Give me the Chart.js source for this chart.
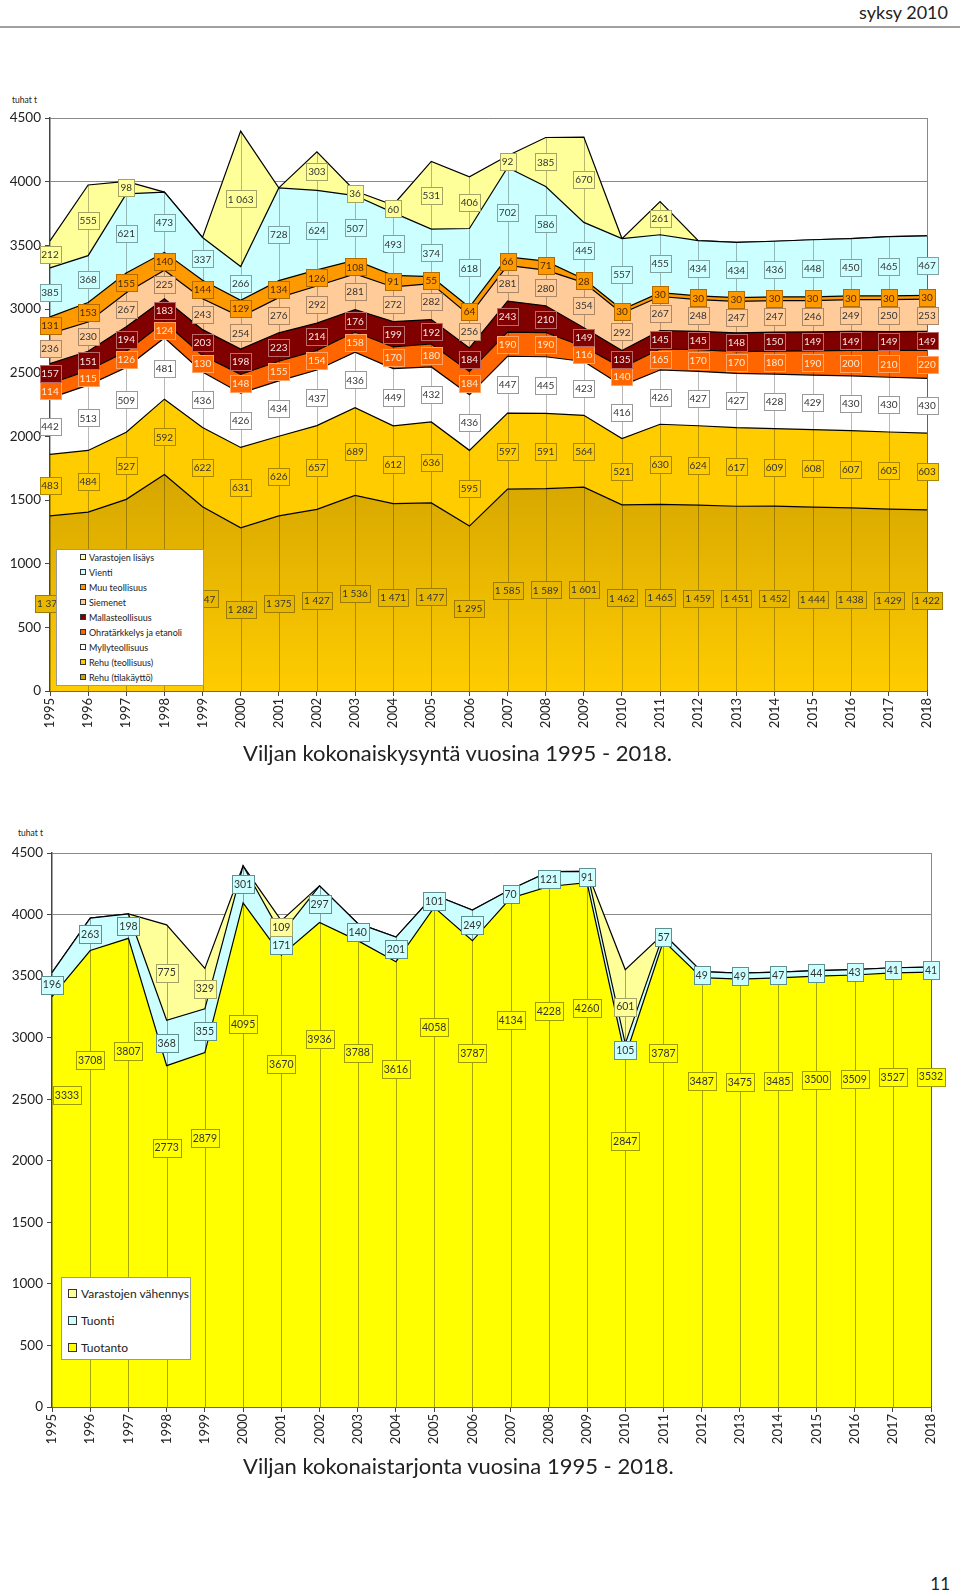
<!DOCTYPE html>
<html>
<head>
<meta charset="utf-8">
<script src="https://cdn.jsdelivr.net/npm/chart.js@4.4.1/dist/chart.umd.min.js"></script>
<style>
body { margin: 0; background: #fff; font-family: Lato, "Open Sans", sans-serif; color: #222; }
#page { position: relative; width: 960px; height: 1596px; overflow: hidden; }
.abs { position: absolute; }
#hdr { right: 12px; top: 1px; font-size: 18px; }
#hdrLine { left: 0; top: 26px; width: 960px; height: 2px; background: #a0a0a0; }
.unit { font-size: 8.5px; }
.title { font-size: 22px; white-space: nowrap; }
.legend { background: #fff; border: 1px solid #999; box-sizing: border-box; }
.legend div { position: absolute; white-space: nowrap; display: flex; align-items: center; }
.legend i { display: inline-block; border: 1px solid #333; box-sizing: border-box; }
#leg1 div { font-size: 9px; height: 12px; }
#leg1 i { width: 6px; height: 6px; margin-right: 3px; }
#leg2 div { font-size: 12px; height: 16px; }
#leg2 i { width: 9px; height: 9px; margin-right: 4px; }
#pageNo { right: 10px; top: 1573px; font-size: 17px; }
</style>
</head>
<body>
<div id="page">
  <div id="hdr" class="abs">syksy 2010</div>
  <div id="hdrLine" class="abs"></div>

  <div class="abs unit" style="left:12px;top:95px;">tuhat t</div>
  <canvas id="demandChart" class="abs" style="left:0;top:100px;" width="960" height="640"></canvas>
  <div id="leg1" class="abs legend" style="left:56px;top:549px;width:148px;height:137px;"></div>
  <div class="abs title" style="left:243px;top:739px;">Viljan kokonaiskysyntä vuosina 1995 - 2018.</div>

  <div class="abs unit" style="left:18px;top:828px;">tuhat t</div>
  <canvas id="supplyChart" class="abs" style="left:0;top:830px;" width="960" height="625"></canvas>
  <div id="leg2" class="abs legend" style="left:61px;top:1277px;width:130px;height:83px;"></div>
  <div class="abs title" style="left:243px;top:1452px;">Viljan kokonaistarjonta vuosina 1995 - 2018.</div>

  <div id="pageNo" class="abs">11</div>
</div>

<script>
// Years
const years = ['1995', '1996', '1997', '1998', '1999', '2000', '2001', '2002', '2003', '2004', '2005', '2006',
    '2007', '2008', '2009', '2010', '2011', '2012', '2013', '2014', '2015', '2016', '2017', '2018'];
const yTicks = [0, 500, 1000, 1500, 2000, 2500, 3000, 3500, 4000, 4500];

// Kokonaiskysyntä (demand), bottom of stack first
const rehuTila = [1375, 1405, 1505, 1700, 1447, 1282, 1375, 1427, 1536, 1471, 1477, 1295, 1585, 1589, 1601, 1462, 1465, 1459, 1451, 1452, 1444, 1438, 1429, 1422];
const rehuTeol = [483, 484, 527, 592, 622, 631, 626, 657, 689, 612, 636, 595, 597, 591, 564, 521, 630, 624, 617, 609, 608, 607, 605, 603];
const mylly = [442, 513, 509, 481, 436, 426, 434, 437, 436, 449, 432, 436, 447, 445, 423, 416, 426, 427, 427, 428, 429, 430, 430, 430];
const ohra = [114, 115, 126, 124, 130, 148, 155, 154, 158, 170, 180, 184, 190, 190, 116, 140, 165, 170, 170, 180, 190, 200, 210, 220];
const mallas = [157, 151, 194, 183, 203, 198, 223, 214, 176, 199, 192, 184, 243, 210, 149, 135, 145, 145, 148, 150, 149, 149, 149, 149];
const siemenet = [236, 230, 267, 225, 243, 254, 276, 292, 281, 272, 282, 256, 281, 280, 354, 292, 267, 248, 247, 247, 246, 249, 250, 253];
const muuTeol = [131, 153, 155, 140, 144, 129, 134, 126, 108, 91, 55, 64, 66, 71, 28, 30, 30, 30, 30, 30, 30, 30, 30, 30];
const vienti = [385, 368, 621, 473, 337, 266, 728, 624, 507, 493, 374, 618, 702, 586, 445, 557, 455, 434, 434, 436, 448, 450, 465, 467];
const varLisays = [212, 555, 98, 0, 0, 1063, 0, 303, 36, 60, 531, 406, 92, 385, 670, 0, 261, 0, 0, 0, 0, 0, 0, 0];

// Kokonaistarjonta (supply), bottom of stack first
const tuotanto = [3333, 3708, 3807, 2773, 2879, 4095, 3670, 3936, 3788, 3616, 4058, 3787, 4134, 4228, 4260, 2847, 3787, 3487, 3475, 3485, 3500, 3509, 3527, 3532];
const tuonti = [196, 263, 198, 368, 355, 301, 171, 297, 140, 201, 101, 249, 70, 121, 91, 105, 57, 49, 49, 47, 44, 43, 41, 41];
const varVahennys = [0, 0, 0, 775, 329, 0, 109, 0, 0, 0, 0, 0, 0, 0, 0, 601, 0, 0, 0, 0, 0, 0, 0, 0];

const FONT = 'Lato, "Open Sans", sans-serif';

// drop lines + boxed value labels in the middle of each band
const stackLabels = {
    id: 'stackLabels',
    afterDatasetsDraw(chart, args, opts) {
        const { ctx, chartArea } = chart;
        const y = chart.scales.y;
        const zero = y.getPixelForValue(0);
        const metas = chart.data.datasets.map((d, i) => chart.getDatasetMeta(i));
        const top = metas[metas.length - 1];

        ctx.save();
        ctx.strokeStyle = opts.dropColor;
        ctx.lineWidth = 1;
        top.data.forEach((p) => {
            const x = Math.round(p.x) + 0.5;
            ctx.beginPath();
            ctx.moveTo(x, p.y);
            ctx.lineTo(x, zero);
            ctx.stroke();
        });

        ctx.font = opts.fontSize + 'px ' + FONT;
        ctx.textAlign = 'center';
        ctx.textBaseline = 'middle';
        chart.data.datasets.forEach((ds, i) => {
            const lab = ds.labelStyle;
            ds.data.forEach((v, j) => {
                if (!v) return;
                const p = metas[i].data[j];
                const base = i === 0 ? zero : metas[i - 1].data[j].y;
                const cy = base + (p.y - base) * (ds.labelAt || 0.5);
                const txt = opts.format(v);
                const w = Math.round(ctx.measureText(txt).width + opts.padX * 2);
                const h = opts.boxH;
                let cx = p.x;
                if (ds.labelClamp) cx = Math.max(cx, chartArea.left + w / 2 + 1);
                const bx = Math.round(cx - w / 2) + 0.5;
                const by = Math.round(cy - h / 2) + 0.5;
                ctx.fillStyle = lab.fill;
                ctx.fillRect(bx, by, w, h);
                ctx.strokeStyle = lab.border;
                ctx.strokeRect(bx, by, w, h);
                ctx.fillStyle = lab.text;
                ctx.fillText(txt, cx, cy + 0.5);
            });
        });
        ctx.restore();
    }
};

function areaSet(label, data, color, labelStyle, i, extra) {
    return Object.assign({
        label: label,
        data: data,
        backgroundColor: color,
        borderColor: '#000',
        borderWidth: 1.2,
        pointRadius: 0,
        tension: 0,
        fill: i === 0 ? 'origin' : '-1',
        labelStyle: labelStyle
    }, extra || {});
}

function makeOptions(yWidth, xHeight, padTop, padRight, labelOpts) {
    const n = years.length;
    return {
        responsive: false,
        animation: false,
        devicePixelRatio: 1,
        layout: { padding: { left: 0, top: padTop, right: padRight, bottom: 0 } },
        plugins: {
            legend: { display: false },
            tooltip: { enabled: false },
            stackLabels: labelOpts
        },
        scales: {
            x: {
                type: 'category',
                offset: false,
                afterFit: (s) => { s.height = xHeight; },
                grid: {
                    offset: false,
                    drawOnChartArea: true,
                    color: (c) => (c.index === n - 1 ? '#8a8a8a' : 'rgba(0,0,0,0)'),
                    tickColor: '#444',
                    tickLength: 5
                },
                border: { color: '#444', width: 1.5 },
                ticks: {
                    autoSkip: false,
                    minRotation: 90,
                    maxRotation: 90,
                    padding: 2,
                    color: '#222',
                    font: { family: FONT, size: 13 }
                }
            },
            y: {
                stacked: true,
                min: 0,
                max: 4500,
                afterFit: (s) => { s.width = yWidth; },
                afterBuildTicks: (s) => { s.ticks = yTicks.map((v) => ({ value: v })); },
                grid: { color: '#8a8a8a', tickColor: '#444', tickLength: 5 },
                border: { color: '#444', width: 1.5 },
                ticks: {
                    color: '#222',
                    padding: 4,
                    font: { family: FONT, size: 13.5 },
                    callback: (v) => String(v)
                }
            }
        }
    };
}

// gradient for the farm-feed band
function tilaGradient(c) {
    const ch = c.chart;
    if (!ch.chartArea) return '#E8B800';
    const g = ch.ctx.createLinearGradient(0, ch.scales.y.getPixelForValue(1700), 0, ch.chartArea.bottom);
    g.addColorStop(0, '#D6A600');
    g.addColorStop(1, '#FFCC00');
    return g;
}

const demandSeries = [
    ['Rehu (tilakäyttö)', rehuTila, tilaGradient, '#CCA300', { fill: '#E8B800', border: '#9C7C00', text: '#333' }],
    ['Rehu (teollisuus)', rehuTeol, '#FFCC00', '#FFCC00', { fill: '#FFCC00', border: '#A88600', text: '#333' }],
    ['Myllyteollisuus', mylly, '#FFFFFF', '#FFFFFF', { fill: '#FFFFFF', border: '#999', text: '#333' }],
    ['Ohratärkkelys ja etanoli', ohra, '#FF6600', '#FF6600', { fill: '#FF6600', border: '#FFA468', text: '#FFEBD6' }],
    ['Mallasteollisuus', mallas, '#800000', '#800000', { fill: '#800000', border: '#B86A6A', text: '#F6E6E6' }],
    ['Siemenet', siemenet, '#FFCC99', '#FFCC99', { fill: '#FFCC99', border: '#A88868', text: '#333' }],
    ['Muu teollisuus', muuTeol, '#FF9900', '#FF9900', { fill: '#FF9900', border: '#B36B00', text: '#4A2A00' }],
    ['Vienti', vienti, '#CCFFFF', '#CCFFFF', { fill: '#CCFFFF', border: '#7FA3A3', text: '#333' }],
    ['Varastojen lisäys', varLisays, '#FFFF99', '#FFFF99', { fill: '#FFFF99', border: '#A3A366', text: '#333' }]
];

const supplySeries = [
    ['Tuotanto', tuotanto, '#FFFF00', '#FFFF00', { fill: '#FFFF00', border: '#9C9C00', text: '#333' }, { labelAt: 0.76, labelClamp: true }],
    ['Tuonti', tuonti, '#CCFFFF', '#CCFFFF', { fill: '#CCFFFF', border: '#5F8F8F', text: '#333' }],
    ['Varastojen vähennys', varVahennys, '#FFFF99', '#FFFF99', { fill: '#FFFF99', border: '#A3A366', text: '#333' }]
];

function buildLegend(el, series, top0, step, left) {
    series.slice().reverse().forEach((s, k) => {
        const row = document.createElement('div');
        row.style.left = left + 'px';
        row.style.top = (top0 + k * step) + 'px';
        const sw = document.createElement('i');
        sw.style.background = s[3];
        row.appendChild(sw);
        row.appendChild(document.createTextNode(s[0]));
        el.appendChild(row);
    });
}

const thousands = (v) => (v >= 1000 ? Math.floor(v / 1000) + ' ' + String(v % 1000).padStart(3, '0') : String(v));

new Chart(document.getElementById('demandChart'), {
    type: 'line',
    data: {
        labels: years,
        datasets: demandSeries.map((s, i) => areaSet(s[0], s[1], s[2], s[4], i, s[5]))
    },
    options: makeOptions(50, 49, 18, 33, {
        dropColor: 'rgba(0,0,0,0.28)', fontSize: 10, padX: 2, boxH: 17, format: thousands
    }),
    plugins: [stackLabels]
});

new Chart(document.getElementById('supplyChart'), {
    type: 'line',
    data: {
        labels: years,
        datasets: supplySeries.map((s, i) => areaSet(s[0], s[1], s[2], s[4], i, s[5]))
    },
    options: makeOptions(52, 48, 23, 29, {
        dropColor: 'rgba(0,0,0,0.35)', fontSize: 10.5, padX: 2, boxH: 18, format: (v) => String(v)
    }),
    plugins: [stackLabels]
});

buildLegend(document.getElementById('leg1'), demandSeries, 1, 15, 23);
buildLegend(document.getElementById('leg2'), supplySeries, 7, 27, 6);
</script>
</body>
</html>
